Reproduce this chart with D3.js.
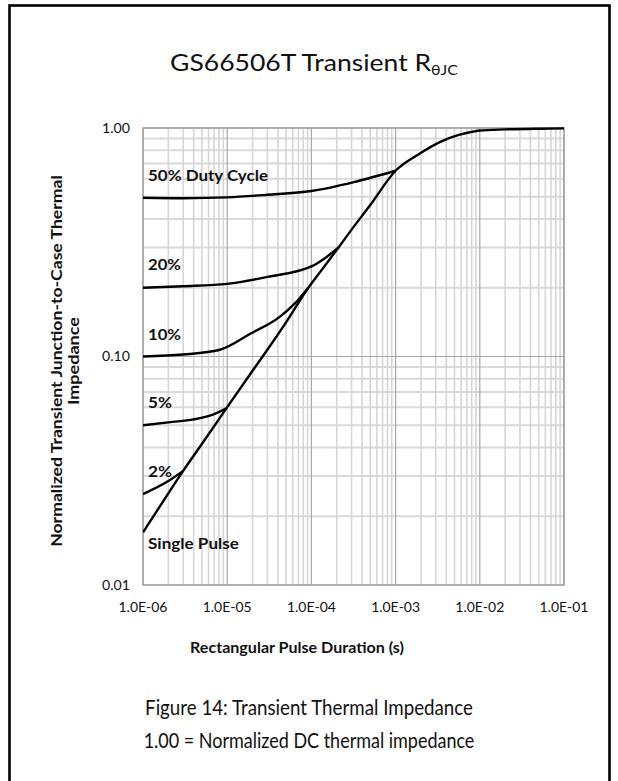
<!DOCTYPE html>
<html>
<head>
<meta charset="utf-8">
<script src="https://cdn.jsdelivr.net/npm/d3@7"></script>
<style>
  html, body { margin: 0; padding: 0; background: #fff; }
  svg { display: block; }
</style>
</head>
<body>
<script>
// ---------- data ----------
const xTicks = [1e-6, 1e-5, 1e-4, 1e-3, 1e-2, 1e-1];
const xTickLabels = ["1.0E-06", "1.0E-05", "1.0E-04", "1.0E-03", "1.0E-02", "1.0E-01"];
const yTicks = [0.01, 0.1, 1];
const yTickLabels = ["0.01", "0.10", "1.00"];

const singlePulse = [[1e-6,0.017],[2e-6,0.0252],[3e-6,0.0316],[5e-6,0.0414],[1e-5,0.060],[2e-5,0.0866],[3e-5,0.107],[5e-5,0.141],[9.2e-5,0.20],[1.3e-4,0.237],[2.1e-4,0.30],[3e-4,0.359],[5e-4,0.46],[1e-3,0.65],[1.8e-3,0.76],[3.4e-3,0.87],[5.5e-3,0.93],[8.4e-3,0.965],[1e-2,0.975],[2e-2,0.986],[5e-2,0.993],[1e-1,0.996]];
const duty50 = [[1e-6,0.495],[3e-6,0.493],[1e-5,0.497],[3e-5,0.51],[1e-4,0.53],[3.2e-4,0.58],[1e-3,0.65]];
const duty20 = [[1e-6,0.20],[3e-6,0.203],[1e-5,0.208],[3e-5,0.223],[1.05e-4,0.25],[1.5e-4,0.272],[2.1e-4,0.30]];
const duty10 = [[1e-6,0.10],[3e-6,0.102],[8.2e-6,0.107],[1.9e-5,0.126],[4.2e-5,0.149],[6.5e-5,0.172],[9.2e-5,0.20]];
const duty5 = [[1e-6,0.050],[2e-6,0.0515],[4.75e-6,0.0537],[7e-6,0.0560],[9.7e-6,0.0593]];
const duty2 = [[1e-6,0.025],[2e-6,0.0285],[3e-6,0.0316]];
const seriesLabels = ["50% Duty Cycle", "20%", "10%", "5%", "2%", "Single Pulse"];
const seriesLabelValues = [0.585, 0.24, 0.1185, 0.0595, 0.0297, 0.0143];

// ---------- layout ----------
const W = 618, H = 781;
const plot = { left: 143, right: 564, top: 128, bottom: 585 };
const fontMain = "Lato, 'Open Sans', sans-serif";
const ink = "#111";

const svg = d3.select("body").append("svg").attr("width", W).attr("height", H);

// outer frame
svg.append("rect").attr("x", 9.5).attr("y", 5.5).attr("width", 600).attr("height", 800)
  .attr("fill", "none").attr("stroke", "#000").attr("stroke-width", 2.6);

const x = d3.scaleLog().domain([1e-6, 1e-1]).range([plot.left, plot.right]);
const y = d3.scaleLog().domain([0.01, 1]).range([plot.bottom, plot.top]);

// horizontal fit helper: compress/expand text around its anchor x
function fitX(node, target) {
  const sel = d3.select(node);
  const w = node.getComputedTextLength();
  if (!(w > 0)) return;
  const s = target / w;
  const ax = parseFloat(sel.attr("x")) || 0;
  sel.attr("transform", `translate(${(ax * (1 - s)).toFixed(2)},0) scale(${s.toFixed(4)},1)`);
}

// ---------- grid ----------
const grid = svg.append("g");
const minorX = [], minorY = [];
for (let e = -6; e < -1; e++) for (let m = 2; m <= 9; m++) minorX.push(m * Math.pow(10, e));
for (let e = -2; e < 0; e++) for (let m = 2; m <= 9; m++) minorY.push(m * Math.pow(10, e));

grid.selectAll(".hy").data(minorY).join("line")
  .attr("x1", plot.left).attr("x2", plot.right)
  .attr("y1", d => y(d)).attr("y2", d => y(d))
  .attr("stroke", "#dadada").attr("stroke-width", 2);
grid.selectAll(".vx").data(minorX).join("line")
  .attr("y1", plot.top).attr("y2", plot.bottom)
  .attr("x1", d => x(d)).attr("x2", d => x(d))
  .attr("stroke", "#d6d6d6").attr("stroke-width", 1.6);
grid.selectAll(".my").data(yTicks).join("line")
  .attr("x1", plot.left).attr("x2", plot.right)
  .attr("y1", d => y(d)).attr("y2", d => y(d))
  .attr("stroke", "#a8a8a8").attr("stroke-width", 1.2);
grid.selectAll(".mx").data(xTicks).join("line")
  .attr("y1", plot.top).attr("y2", plot.bottom)
  .attr("x1", d => x(d)).attr("x2", d => x(d))
  .attr("stroke", "#a8a8a8").attr("stroke-width", 1.2);
grid.append("rect").attr("x", plot.left).attr("y", plot.top)
  .attr("width", plot.right - plot.left).attr("height", plot.bottom - plot.top)
  .attr("fill", "none").attr("stroke", "#a0a0a0").attr("stroke-width", 1.4);

// ---------- curves ----------
svg.append("clipPath").attr("id", "clip").append("rect")
  .attr("x", plot.left).attr("y", plot.top - 2)
  .attr("width", plot.right - plot.left).attr("height", plot.bottom - plot.top + 2);
const line = d3.line().x(d => x(d[0])).y(d => y(d[1])).curve(d3.curveMonotoneX);
const curves = svg.append("g").attr("clip-path", "url(#clip)");
[singlePulse, duty50, duty20, duty10, duty5, duty2].forEach(s => {
  curves.append("path").attr("d", line(s)).attr("fill", "none")
    .attr("stroke", "#000").attr("stroke-width", 2.4).attr("stroke-linejoin", "round");
});

// series labels
const labelWidths = [120, 33, 33, 24, 24, 91];
svg.selectAll(".sl").data(seriesLabels).join("text")
  .attr("x", 148).attr("y", (d, i) => y(seriesLabelValues[i]))
  .attr("font-family", fontMain).attr("font-weight", "bold").attr("font-size", 15)
  .attr("fill", ink).text(d => d)
  .each(function (d, i) { fitX(this, labelWidths[i]); });

// ---------- axes labels ----------
svg.selectAll(".ytl").data(yTicks).join("text")
  .attr("x", 130).attr("y", d => y(d) + 5).attr("text-anchor", "end")
  .attr("font-family", fontMain).attr("font-size", 14).attr("fill", ink)
  .text((d, i) => yTickLabels[i])
  .each(function () { fitX(this, 28); });
svg.selectAll(".xtl").data(xTicks).join("text")
  .attr("x", d => x(d)).attr("y", 612).attr("text-anchor", "middle")
  .attr("font-family", fontMain).attr("font-size", 14).attr("fill", ink)
  .text((d, i) => xTickLabels[i])
  .each(function () { fitX(this, 49); });

svg.append("text").attr("x", 297).attr("y", 653).attr("text-anchor", "middle")
  .attr("font-family", fontMain).attr("font-weight", "bold").attr("font-size", 14.5)
  .attr("fill", ink).text("Rectangular Pulse Duration (s)")
  .each(function () { fitX(this, 214); });

const yl = svg.append("g").attr("transform", "translate(0,361) rotate(-90)");
yl.append("text").attr("x", 0).attr("y", 62).attr("text-anchor", "middle")
  .attr("font-family", fontMain).attr("font-weight", "bold").attr("font-size", 14.5)
  .attr("fill", ink).text("Normalized Transient Junction-to-Case Thermal")
  .each(function () { fitX(this, 372); });
yl.append("text").attr("x", 0).attr("y", 79).attr("text-anchor", "middle")
  .attr("font-family", fontMain).attr("font-weight", "bold").attr("font-size", 14.5)
  .attr("fill", ink).text("Impedance")
  .each(function () { fitX(this, 88); });

// ---------- title ----------
const title = svg.append("text").attr("x", 314).attr("y", 71).attr("text-anchor", "middle")
  .attr("font-family", fontMain).attr("font-size", 23).attr("fill", ink);
title.append("tspan").text("GS66506T Transient R");
title.append("tspan").attr("font-size", "0.6em").attr("dy", 4).text("θJC");
fitX(title.node(), 288);

// ---------- caption ----------
svg.append("text").attr("x", 309).attr("y", 715).attr("text-anchor", "middle")
  .attr("font-family", fontMain).attr("font-size", 22).attr("fill", ink)
  .text("Figure 14: Transient Thermal Impedance")
  .each(function () { fitX(this, 328); });
svg.append("text").attr("x", 309).attr("y", 748).attr("text-anchor", "middle")
  .attr("font-family", fontMain).attr("font-size", 22).attr("fill", ink)
  .text("1.00 = Normalized DC thermal impedance")
  .each(function () { fitX(this, 331); });
</script>
</body>
</html>
